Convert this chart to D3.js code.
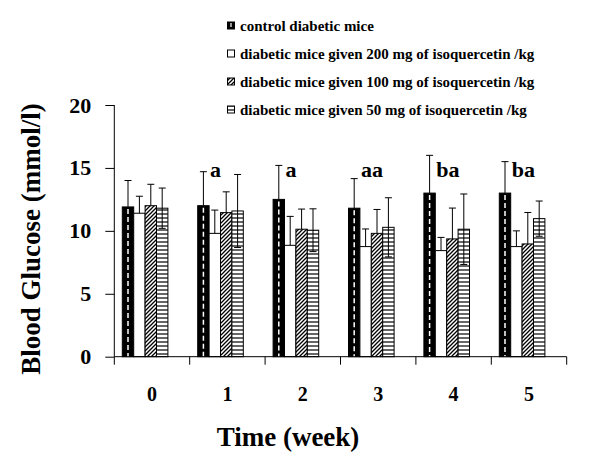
<!DOCTYPE html>
<html>
<head>
<meta charset="utf-8">
<script src="https://cdn.jsdelivr.net/npm/d3@7"></script>
<style>
  html, body { margin: 0; padding: 0; background: #fff; }
  svg { display: block; font-family: "Liberation Serif", "Times New Roman", serif; }
  svg text { font-family: "Liberation Serif", "Times New Roman", serif !important; font-weight: bold; fill: #000; }
</style>
</head>
<body>
<svg id="chart" width="600" height="462"></svg>
<script>
// ---- data ----
const weeks = ["0", "1", "2", "3", "4", "5"];
const seriesNames = [
  "control diabetic mice",
  "diabetic mice given 200 mg of isoquercetin /kg",
  "diabetic mice given 100 mg of isoquercetin /kg",
  "diabetic mice given 50 mg of isoquercetin /kg"
];
const controlValues = [11.9, 12.0, 12.5, 11.8, 13.0, 13.0];
const controlErrors = [2.1, 2.7, 2.7, 2.35, 3.0, 2.5];
const dose200Values = [11.4, 9.8, 8.85, 8.75, 8.43, 8.75];
const dose200Errors = [1.35, 1.85, 2.3, 1.4, 1.05, 1.25];
const dose100Values = [12.0, 11.45, 10.13, 9.8, 9.36, 8.96];
const dose100Errors = [1.7, 1.65, 1.6, 1.9, 2.45, 2.5];
const dose50Values = [11.8, 11.58, 10.05, 10.28, 10.13, 10.97];
const dose50Errors = [1.6, 2.9, 1.7, 2.35, 2.8, 1.4];
const annotations = ["", "a", "a", "aa", "ba", "ba"];
const yTicks = [0, 5, 10, 15, 20];

const valueSets = [controlValues, dose200Values, dose100Values, dose50Values];
const errorSets = [controlErrors, dose200Errors, dose100Errors, dose50Errors];
const fills = ["#000", "#fff", "url(#diag)", "url(#horiz)"];
const showLower = [false, false, false, true];

const svg = d3.select("#chart");

// ---- patterns ----
const defs = svg.append("defs");
const diag = defs.append("pattern").attr("id", "diag")
  .attr("patternUnits", "userSpaceOnUse").attr("width", 4).attr("height", 4);
diag.append("rect").attr("width", 4).attr("height", 4).attr("fill", "#fff");
diag.append("path").attr("d", "M-1,1 l2,-2 M0,4 l4,-4 M3,5 l2,-2")
  .attr("stroke", "#000").attr("stroke-width", 1.3);
const horiz = defs.append("pattern").attr("id", "horiz")
  .attr("patternUnits", "userSpaceOnUse").attr("width", 4).attr("height", 4);
horiz.append("rect").attr("width", 4).attr("height", 4).attr("fill", "#fff");
horiz.append("line").attr("x1", 0).attr("x2", 4).attr("y1", 2).attr("y2", 2)
  .attr("stroke", "#000").attr("stroke-width", 1.2);

// ---- scales ----
const x = d3.scaleBand().domain(weeks).range([114.3, 566.7]).padding(0);
const inner = d3.scaleBand().domain(d3.range(4)).range([8, 8 + 4 * 11.4]).padding(0);
const y = d3.scaleLinear().domain([0, 20]).range([356.7, 105]);

// ---- bars ----
const bw = inner.bandwidth();
seriesNames.forEach((name, s) => {
  const g = svg.append("g");
  weeks.forEach((w, i) => {
    const v = valueSets[s][i];
    const bx = x(w) + inner(s);
    g.append("rect")
      .attr("x", bx).attr("y", y(v))
      .attr("width", bw).attr("height", y(0) - y(v))
      .attr("fill", fills[s])
      .attr("stroke", "#000").attr("stroke-width", 1);
    if (s === 0) {
      g.append("line")
        .attr("x1", bx + bw / 2).attr("x2", bx + bw / 2)
        .attr("y1", y(v) + 2).attr("y2", y(0))
        .attr("stroke", "#fff").attr("stroke-width", 1.5)
        .attr("stroke-dasharray", "5,3");
    }
  });
});

// ---- error bars ----
seriesNames.forEach((name, s) => {
  weeks.forEach((w, i) => {
    const v = valueSets[s][i], e = errorSets[s][i];
    const cx = x(w) + inner(s) + bw / 2;
    const top = v + e, bot = showLower[s] ? v - e : v;
    svg.append("line").attr("x1", cx).attr("x2", cx)
      .attr("y1", y(top)).attr("y2", y(bot))
      .attr("stroke", "#000").attr("stroke-width", 1);
    svg.append("line").attr("x1", cx - 3.5).attr("x2", cx + 3.5)
      .attr("y1", y(top)).attr("y2", y(top))
      .attr("stroke", "#000").attr("stroke-width", 1);
    if (showLower[s]) {
      svg.append("line").attr("x1", cx - 3.5).attr("x2", cx + 3.5)
        .attr("y1", y(bot)).attr("y2", y(bot))
        .attr("stroke", "#000").attr("stroke-width", 1);
    }
  });
});

// ---- annotations ----
weeks.forEach((w, i) => {
  if (!annotations[i]) return;
  svg.append("text")
    .attr("x", x(w) + inner(0) + bw + 1)
    .attr("y", y(14.25))
    .attr("font-size", 22)
    .text(annotations[i]);
});

// ---- axes ----
const yAxis = svg.append("g").attr("transform", `translate(${x.range()[0]},0)`)
  .call(d3.axisLeft(y).tickValues(yTicks).tickSize(9).tickPadding(14).tickFormat(d3.format("d")));
yAxis.attr("font-family", null).attr("font-size", null);
yAxis.select(".domain").attr("d", `M0,${y(20)}V${y(0)}`).attr("stroke", "#000");
yAxis.selectAll(".tick line").attr("stroke", "#000");
yAxis.selectAll(".tick text").attr("font-size", 22);

const xAxis = svg.append("g").attr("transform", `translate(0,${y(0)})`)
  .call(d3.axisBottom(x).tickSize(0).tickPadding(30));
xAxis.attr("font-family", null).attr("font-size", null);
xAxis.select(".domain").attr("d", `M${x.range()[0]},0H${x.range()[1]}`).attr("stroke", "#000");
xAxis.selectAll(".tick text").attr("font-size", 20);
// boundary tick marks
const bounds = weeks.map(w => x(w)).concat([x.range()[1]]);
xAxis.selectAll(".bound").data(bounds).join("line")
  .attr("x1", d => d).attr("x2", d => d).attr("y1", 0).attr("y2", 8)
  .attr("stroke", "#000");

// ---- axis titles ----
svg.append("text")
  .attr("x", 288).attr("y", 446)
  .attr("text-anchor", "middle").attr("font-size", 27)
  .text("Time (week)");
svg.append("text")
  .attr("transform", "translate(40,239) rotate(-90)")
  .attr("text-anchor", "middle").attr("font-size", 27)
  .text("Blood Glucose (mmol/l)");

// ---- legend ----
const legend = svg.append("g");
seriesNames.forEach((name, s) => {
  const ly = 26 + s * 28;
  legend.append("rect")
    .attr("x", 227.5).attr("y", ly - 4).attr("width", 7).attr("height", 7)
    .attr("fill", fills[s]).attr("stroke", "#000").attr("stroke-width", 1);
  if (s === 0) {
    legend.append("line").attr("x1", 231).attr("x2", 231).attr("y1", ly - 3).attr("y2", ly + 1)
      .attr("stroke", "#fff").attr("stroke-width", 1.2);
  }
  legend.append("text")
    .attr("x", 240).attr("y", ly + 5)
    .attr("font-size", 15)
    .text(name);
});
</script>
</body>
</html>
